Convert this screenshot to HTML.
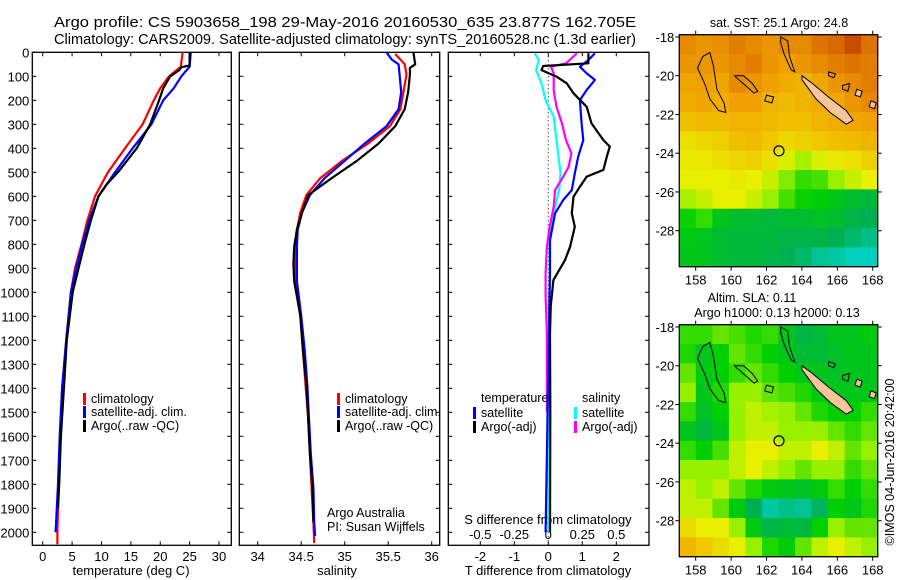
<!DOCTYPE html>
<html><head><meta charset="utf-8">
<style>
html,body{margin:0;padding:0;background:#fff;}
svg{display:block;font-family:"Liberation Sans",sans-serif;}
text{fill:#000;}
</style></head>
<body>
<svg id="root" width="900" height="580" viewBox="0 0 900 580" xmlns="http://www.w3.org/2000/svg">
<text x="54" y="27" font-size="15" textLength="582" lengthAdjust="spacingAndGlyphs">Argo profile: CS 5903658_198 29-May-2016 20160530_635 23.877S 162.705E</text>
<text x="54" y="44" font-size="15" textLength="582" lengthAdjust="spacingAndGlyphs">Climatology: CARS2009. Satellite-adjusted climatology: synTS_20160528.nc (1.3d earlier)</text>
<g id="g"></g>
</svg>
<script>
// ---------- data ----------
const depthTicks = [0,100,200,300,400,500,600,700,800,900,1000,1100,1200,1300,1400,1500,1600,1700,1800,1900,2000];
const tempTicks = [0,5,10,15,20,25,30];
const salTicks = [34,34.5,35,35.5,36];
const tdiffTicks = [-2,-1,0,1,2];
const sdiffTicks = [-0.5,-0.25,0,0.25,0.5];
const sdiffTickLabels = ["-0.5","-0.25","0","0.25","0.5"];

const tClimDepth = [0,60,100,150,200,300,400,500,600,700,800,900,1000,1200,1400,1600,1800,2000,2050];
const tClim =      [23.8,23.5,21.5,20.0,18.9,17.0,14.0,11.1,8.9,7.6,6.6,5.5,4.8,4.0,3.3,3.0,2.7,2.5,2.5];
const tSatDepth =  [0,60,100,150,200,300,400,500,600,700,800,900,1000,1200,1400,1600,1800,2000];
const tSat =       [25.2,25.0,23.6,22.3,20.5,18.5,15.3,12.3,9.5,7.9,6.7,5.7,4.8,4.0,3.3,2.9,2.6,2.2];
const tArgoDepth = [0,55,62,75,100,150,200,300,400,500,550,600,700,800,900,1000,1200,1400,1600,1800,1900];
const tArgo =      [25.0,25.0,23.6,23.2,21.7,20.5,19.8,18.3,16.0,12.8,10.9,9.5,8.2,7.1,6.1,5.1,4.1,3.6,3.1,2.8,2.6];

const sClimDepth = [7,50,93,237,308,380,452,524,595,667,739,810,882,954,1098,1241,1385,1528,1672,1815,1958,2045];
const sClim =      [35.58,35.69,35.71,35.64,35.52,35.27,34.97,34.72,34.56,34.49,34.45,34.43,34.43,34.44,34.49,34.52,34.55,34.58,34.60,34.62,34.64,34.65];
const sSatDepth =  [0,30,50,165,237,308,380,452,524,595,667,739,810,954,1098,1241,1385,1528,1672,1815,1958,2015];
const sSat =       [35.48,35.54,35.62,35.65,35.62,35.48,35.23,35.00,34.77,34.60,34.51,34.46,34.45,34.45,34.50,34.54,34.57,34.59,34.61,34.64,34.65,34.66];
const sArgoDepth = [0,50,65,93,165,237,308,380,452,524,595,667,739,810,882,954,1098,1241,1385,1528,1672,1815,1958];
const sArgo =      [35.79,35.81,35.75,35.75,35.73,35.69,35.58,35.39,35.14,34.85,34.58,34.51,34.45,34.42,34.41,34.42,34.49,34.52,34.56,34.58,34.60,34.63,34.64];

const dTSatDepth = [4,32,60,88,115,157,199,296,366,435,504,574,615,671,782,921,1060,1171,1500,2000];
const dTSat =      [1.37,1.18,0.93,1.13,1.37,1.13,0.93,0.98,1.03,0.88,0.78,0.69,0.44,0.20,0.05,0.05,0.03,0.02,-0.02,-0.08];
const dTArgoDepth = [4,46,57,74,102,129,171,227,296,366,393,435,490,518,560,602,671,727,810,866,949,1060,1171,1500,2000];
const dTArgo =      [1.18,1.18,-0.15,-0.20,0.25,0.54,0.74,1.13,1.27,1.62,1.81,1.72,1.62,1.13,0.93,0.74,0.69,0.78,0.64,0.49,0.15,0.07,0.05,0.06,0.05];
const dSSatDepth = [4,32,74,129,199,268,366,504,574,643,727,810,921,1171,1500,2000];
const dSSat =      [-0.10,-0.07,-0.09,-0.05,-0.02,0.04,0.06,0.09,0.08,0.05,0.02,0.01,0.01,0.01,0.005,0.0];
const dSArgoDepth = [4,46,60,88,157,227,296,366,421,476,518,574,643,727,810,921,1018,1171,1500];
const dSArgo =      [0.21,0.13,0.02,0.04,0.04,0.06,0.10,0.13,0.17,0.15,0.11,0.05,0.04,0.01,-0.01,-0.02,-0.02,-0.01,-0.01];

const lonTicks = [158,160,162,164,166,168];
const latTicks = [-18,-20,-22,-24,-26,-28];
const sstGrid = [
[.86,.84,.85,.88,.86,.84,.86,.86,.90,.92,.95,.90],
[.84,.84,.84,.86,.88,.84,.82,.84,.86,.88,.90,.88],
[.80,.82,.80,.86,.84,.82,.78,.76,.80,.84,.86,.88],
[.78,.80,.78,.82,.82,.76,.74,.76,.78,.80,.84,.86],
[.72,.74,.74,.76,.76,.74,.72,.72,.76,.78,.80,.82],
[.64,.66,.68,.72,.74,.70,.66,.68,.70,.72,.74,.76],
[.62,.62,.64,.66,.68,.64,.58,.52,.58,.62,.64,.68],
[.60,.60,.60,.62,.60,.56,.48,.40,.42,.50,.56,.60],
[.52,.56,.60,.60,.56,.50,.42,.36,.34,.30,.26,.24],
[.36,.40,.30,.26,.26,.24,.26,.26,.28,.26,.22,.20],
[.32,.30,.26,.24,.24,.24,.22,.22,.22,.20,.16,.12],
[.30,.30,.26,.24,.24,.22,.20,.16,.10,.08,.04,.04]];
const slaGrid = [
[.40,.40,.45,.42,.38,.40,.30,.22,.25,.30,.30,.32],
[.38,.30,.35,.45,.40,.35,.30,.25,.25,.28,.30,.30],
[.45,.32,.35,.40,.45,.40,.35,.30,.30,.28,.30,.30],
[.50,.30,.38,.50,.50,.45,.42,.38,.32,.30,.30,.30],
[.40,.28,.35,.50,.55,.52,.50,.45,.38,.35,.35,.40],
[.30,.24,.30,.50,.55,.55,.50,.50,.50,.45,.40,.45],
[.40,.35,.42,.55,.60,.60,.55,.55,.60,.55,.45,.50],
[.50,.50,.50,.55,.60,.55,.50,.45,.50,.50,.40,.45],
[.55,.50,.55,.45,.38,.32,.30,.28,.32,.40,.35,.40],
[.55,.55,.45,.32,.20,.08,.12,.10,.18,.35,.30,.38],
[.65,.60,.60,.50,.32,.22,.25,.24,.35,.50,.45,.45],
[.75,.70,.65,.60,.50,.38,.33,.45,.55,.60,.55,.50]];

// ---------- drawing ----------
const NS="http://www.w3.org/2000/svg";
const G=document.getElementById('g');
function el(tag,attrs,parent){const e=document.createElementNS(NS,tag);for(const k in attrs)e.setAttribute(k,attrs[k]);(parent||G).appendChild(e);return e;}
function txt(x,y,s,size,anchor,parent){const t=el('text',{x:x,y:y,'font-size':size,'text-anchor':anchor||'start'},parent);t.textContent=s;return t;}

const PT=52.3, PB=545.3;
const yD = d => PT + d*0.24;
function scaleX(v0,px0,v1,px1){return v=>px0+(v-v0)*(px1-px0)/(v1-v0);}

function frame(name,x0,x1,y0,y1){
  const r=el('rect',{x:x0,y:y0,width:x1-x0,height:y1-y0,fill:'none',stroke:'#000','stroke-width':1.3});
  
  
}
function yTicks(x0,x1,labels){
  depthTicks.forEach(d=>{
    const y=yD(d);
    el('line',{x1:x0,y1:y,x2:x0+4,y2:y,stroke:'#000'});
    el('line',{x1:x1,y1:y,x2:x1-4,y2:y,stroke:'#000'});
    if(labels){const t=txt(x0-3,y+5,String(d),13,'end');
      
      }
  });
}
function xTicks(ticks,sx,labels,y0,y1,ly){
  ticks.forEach((v,i)=>{
    const x=sx(v);
    el('line',{x1:x,y1:y1,x2:x,y2:y1-4,stroke:'#000'});
    el('line',{x1:x,y1:y0,x2:x,y2:y0+4,stroke:'#000'});
    const t=txt(x,ly,labels?labels[i]:String(v),13,'middle');
    
    
  });
}
function line(name,vals,depths,sx,color,w){
  const pts=vals.map((v,i)=>sx(v).toFixed(1)+','+yD(depths[i]).toFixed(1)).join(' ');
  const p=el('polyline',{points:pts,fill:'none',stroke:color,'stroke-width':w||2.2,'stroke-linejoin':'round'});
  
  
}
function legendEntry(x,y,color,label){
  const g=el('g',{});
  
  
  el('rect',{x:x,y:y-9,width:3,height:12,fill:color},g);
  txt(x+8,y+1,label,12.5,'start',g);
}

// Panel 1 temperature
const sxT=scaleX(0,42.7,30,219);
frame('temperature-panel',32.3,231.3,PT,PB);
yTicks(32.3,231.3,true);
xTicks(tempTicks,sxT,null,PT,PB,561);
txt(131,575,'temperature (deg C)',13,'middle');
line('climatology-temp-line',tClim,tClimDepth,sxT,'#f00');
line('satellite-temp-line',tSat,tSatDepth,sxT,'#00f');
line('argo-temp-line',tArgo,tArgoDepth,sxT,'#000');
legendEntry(83,402,'#f00','climatology');
legendEntry(83,415,'#00f','satellite-adj. clim.');
legendEntry(83,429,'#000','Argo(..raw -QC)');

// Panel 2 salinity
const sxS=scaleX(34,257.7,36,431.7);
frame('salinity-panel',239.3,439.7,PT,PB);
yTicks(239.3,439.7,false);
xTicks(salTicks,sxS,null,PT,PB,561);
txt(337,575,'salinity',13,'middle');
line('climatology-sal-line',sClim,sClimDepth,sxS,'#f00');
line('satellite-sal-line',sSat,sSatDepth,sxS,'#00f');
line('argo-sal-line',sArgo,sArgoDepth,sxS,'#000');
legendEntry(337,402,'#f00','climatology');
legendEntry(337,415,'#00f','satellite-adj. clim.');
legendEntry(337,429,'#000','Argo(..raw -QC)');
txt(327,517,'Argo Australia',12.5,'start');
txt(327,531,'PI: Susan Wijffels',12.5,'start');

// Panel 3 differences
const sxD=scaleX(0,548.3,1,582.3);
const sxDS=scaleX(0,548.3,0.25,582.3);
frame('difference-panel',448.3,649,PT,PB);
yTicks(448.3,649,false);
xTicks(tdiffTicks,sxD,null,PT,PB,561);
sdiffTicks.forEach((v,i)=>{const t=txt(sxDS(v),539,sdiffTickLabels[i],13,'middle');
  });
txt(548,524,'S difference from climatology',13,'middle');
txt(548,575,'T difference from climatology',13,'middle');
el('line',{x1:548.3,y1:PT,x2:548.3,y2:PB,stroke:'#000','stroke-dasharray':'1,3'});
line('satellite-sdiff-line',dSSat,dSSatDepth,sxDS,'#0ff');
line('argo-sdiff-line',dSArgo,dSArgoDepth,sxDS,'#f0f');
line('satellite-tdiff-line',dTSat,dTSatDepth,sxD,'#00f');
line('argo-tdiff-line',dTArgo,dTArgoDepth,sxD,'#000');
txt(481,402,'temperature',12.5,'start');
legendEntry(473,416,'#00f','satellite');
legendEntry(473,430,'#000','Argo(-adj)');
txt(582,402,'salinity',12.5,'start');
legendEntry(574,416,'#0ff','satellite');
legendEntry(574,430,'#f0f','Argo(-adj)');

// ---------- maps ----------
const cmStops=[[0,[0,216,216]],[0.2,[0,176,80]],[0.35,[0,208,0]],[0.5,[150,240,0]],[0.6,[232,240,0]],[0.72,[240,192,0]],[0.82,[240,160,0]],[0.92,[216,104,0]],[1,[176,32,0]]];
function cmap(v){for(let i=1;i<cmStops.length;i++){if(v<=cmStops[i][0]){const a=cmStops[i-1],b=cmStops[i];const t=(v-a[0])/(b[0]-a[0]);const c=a[1].map((x,k)=>Math.round(x+(b[1][k]-x)*t));return 'rgb('+c.join(',')+')';}}return 'rgb(176,32,0)';}
function drawMap(name,grid,y0,y1){
  const x0=679.3,x1=877.7;
  const lonX=scaleX(158,695.7,168,872.7);
  const latY=v=>y0+2.3+(-18-v)*19.37;
  const g=el('g',{});
  
  
  const rows=grid.length,cols=grid[0].length,cw=(x1-x0)/cols,ch=(y1-y0)/rows;
  grid.forEach((row,r)=>row.forEach((v,c)=>{
    el('rect',{x:x0+c*cw,y:y0+r*ch,width:cw+0.5,height:ch+0.5,fill:cmap(v)},g);
  }));
  const P=(lo,la)=>lonX(lo).toFixed(1)+','+latY(la).toFixed(1);
  const isl=(coords,fill)=>el('polygon',{points:coords.map(c=>P(c[0],c[1])).join(' '),fill:fill,stroke:'#000','stroke-width':1},g);
  isl([[158.4,-19.0],[158.8,-18.8],[159.0,-19.5],[159.2,-20.7],[159.6,-21.4],[159.7,-21.9],[159.3,-21.8],[158.8,-21.2],[158.5,-20.4],[158.1,-19.6]],'none');
  isl([[160.2,-20.0],[160.7,-20.0],[161.2,-20.4],[161.5,-20.8],[161.3,-20.9],[160.8,-20.5],[160.3,-20.1]],'none');
  isl([[162.0,-21.0],[162.4,-21.1],[162.3,-21.4],[161.9,-21.3]],'none');
  isl([[162.8,-18.0],[163.2,-18.2],[163.3,-19.0],[163.6,-19.8],[163.4,-19.7],[163.0,-18.9],[162.8,-18.3]],'none');
  isl([[164.0,-20.0],[164.6,-20.4],[165.5,-21.1],[166.5,-21.8],[166.9,-22.3],[166.5,-22.5],[165.6,-21.9],[164.8,-21.2],[164.0,-20.2]],'#f7c59a');
  isl([[165.5,-19.8],[165.9,-19.9],[165.8,-20.1],[165.5,-20.0]],'none');
  isl([[166.3,-20.5],[166.7,-20.4],[166.6,-20.8],[166.3,-20.7]],'none');
  isl([[167.1,-20.7],[167.4,-20.8],[167.3,-21.1],[167.0,-21.0]],'#f7c59a');
  isl([[167.9,-21.3],[168.2,-21.4],[168.1,-21.7],[167.8,-21.6]],'#f7c59a');
  const c=el('circle',{cx:lonX(162.705),cy:latY(-23.877),r:5,fill:'none',stroke:'#000','stroke-width':1.2},g);
  
  
  el('rect',{x:x0,y:y0,width:x1-x0,height:y1-y0,fill:'none',stroke:'#000','stroke-width':1.3},g);
  lonTicks.forEach(v=>{const x=lonX(v);
    el('line',{x1:x,y1:y0,x2:x,y2:y0-4,stroke:'#000'},g);el('line',{x1:x,y1:y1,x2:x,y2:y1+4,stroke:'#000'},g);
    txt(x,y1+18,String(v),13,'middle',g);});
  latTicks.forEach(v=>{const y=latY(v);
    el('line',{x1:x0,y1:y,x2:x0-4,y2:y,stroke:'#000'},g);el('line',{x1:x1,y1:y,x2:x1+4,y2:y,stroke:'#000'},g);
    txt(x0-5,y+5,String(v),13,'end',g);});
}
drawMap('sst-map',sstGrid,34.7,266.7);
drawMap('sla-map',slaGrid,324.7,556.7);
txt(779,27,'sat. SST: 25.1 Argo: 24.8',12.5,'middle');
txt(752,302,'Altim. SLA: 0.11',12.5,'middle');
txt(777,317,'Argo h1000: 0.13 h2000: 0.13',12.5,'middle');
const cr=txt(0,0,'©IMOS 04-Jun-2016 20:42:00',12.5,'middle');
cr.setAttribute('transform','translate(894,462) rotate(-90)');


</script>
</body></html>
